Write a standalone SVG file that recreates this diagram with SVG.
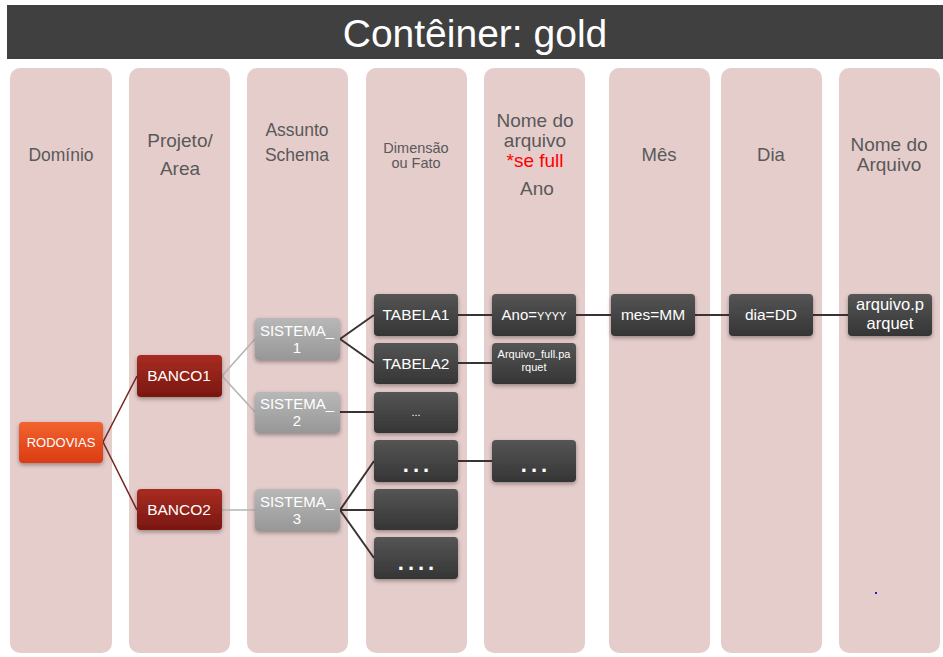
<svg xmlns="http://www.w3.org/2000/svg" width="943" height="657" viewBox="0 0 943 657">
<defs>
<linearGradient id="gDark" x1="0" y1="0" x2="0" y2="1"><stop offset="0" stop-color="#555"/><stop offset="1" stop-color="#353535"/></linearGradient>
<linearGradient id="gGray" x1="0" y1="0" x2="0" y2="1"><stop offset="0" stop-color="#b8b8b8"/><stop offset="1" stop-color="#979797"/></linearGradient>
<linearGradient id="gRed" x1="0" y1="0" x2="0" y2="1"><stop offset="0" stop-color="#a82c22"/><stop offset="1" stop-color="#7a1710"/></linearGradient>
<linearGradient id="gOrange" x1="0" y1="0" x2="0" y2="1"><stop offset="0" stop-color="#f2632f"/><stop offset="1" stop-color="#db3c12"/></linearGradient>
<filter id="sh" x="-20%" y="-20%" width="140%" height="150%"><feDropShadow dx="0" dy="2" stdDeviation="2" flood-color="#000" flood-opacity="0.35"/></filter>
</defs>
<style>
.col{fill:#e5cdcc}
.hd{font-family:"Liberation Sans",Arial,sans-serif;fill:#595959;text-anchor:middle}
.nt{font-family:"Liberation Sans",Arial,sans-serif;fill:#fff;text-anchor:middle}
.dots{font-family:"Liberation Sans",Arial,sans-serif;fill:#fff;text-anchor:middle;font-size:22px;font-weight:bold;letter-spacing:4px}
.dk{fill:url(#gDark);filter:url(#sh)}
.gr{fill:url(#gGray);filter:url(#sh)}
.rd{fill:url(#gRed);filter:url(#sh)}
.or{fill:url(#gOrange);filter:url(#sh)}
.c1{stroke:#7a2a24;stroke-width:1.6;fill:none}
.c2{stroke:#b4b4b4;stroke-width:1.6;fill:none}
.c3{stroke:#3b3333;stroke-width:2;fill:none}
</style>
<rect x="0" y="0" width="943" height="657" fill="#fff"/>
<g id="title">
<rect x="7" y="5" width="936" height="54" fill="#404040"/>
<text x="475" y="47" font-family="Liberation Sans,Arial,sans-serif" font-size="39" fill="#fff" text-anchor="middle">Contêiner: gold</text>
</g>
<g id="columns">
<rect class="col" x="10" y="68" width="102" height="585" rx="10"/>
<rect class="col" x="129" y="68" width="101" height="585" rx="10"/>
<rect class="col" x="247" y="68" width="101" height="585" rx="10"/>
<rect class="col" x="366" y="68" width="101" height="585" rx="10"/>
<rect class="col" x="484" y="68" width="101" height="585" rx="10"/>
<rect class="col" x="609" y="68" width="101" height="585" rx="10"/>
<rect class="col" x="721" y="68" width="101" height="585" rx="10"/>
<rect class="col" x="839" y="68" width="101" height="585" rx="10"/>
<text class="hd" x="61" y="161" font-size="17.5">Domínio</text>
<text class="hd" x="180" y="147" font-size="19">Projeto/</text>
<text class="hd" x="180" y="175" font-size="19">Area</text>
<text class="hd" x="297" y="136" font-size="17.5">Assunto</text>
<text class="hd" x="297" y="161" font-size="17.5">Schema</text>
<text class="hd" x="416" y="153" font-size="14.5">Dimensão</text>
<text class="hd" x="416" y="168" font-size="14.5">ou Fato</text>
<text class="hd" x="535" y="127" font-size="19">Nome do</text>
<text class="hd" x="535" y="147" font-size="19">arquivo</text>
<text class="hd" x="535" y="167" font-size="19" style="fill:#ff0000">*se full</text>
<text class="hd" x="537" y="195" font-size="19">Ano</text>
<text class="hd" x="659" y="161" font-size="18.5">Mês</text>
<text class="hd" x="771" y="161" font-size="18.5">Dia</text>
<text class="hd" x="889" y="151" font-size="19">Nome do</text>
<text class="hd" x="889" y="171" font-size="19">Arquivo</text>
<rect x="875" y="592" width="2" height="2" fill="#2020d0"/>
</g>
<g id="connectors">
<path class="c1" d="M103 442 L137 376 M103 442 L137 510"/>
<path class="c2" d="M222 376 L255 339 M222 376 L255 412 M222 510 L255 510"/>
<path class="c3" d="M340 339 L374 315 M340 339 L374 363 M340 412 L374 412 M340 510 L374 461 M340 510 L374 510 M340 510 L374 558"/>
<path class="c3" d="M458 315 L492 315 M576 315 L611 315 M694 315 L729 315 M812 315 L848 315 M458 363 L492 363 M458 461 L492 461"/>
</g>
<g id="rodovias"><rect class="or" x="19" y="422" width="84" height="41" rx="4"/><text class="nt" x="61" y="447" font-size="13">RODOVIAS</text></g>
<g id="banco1"><rect class="rd" x="137" y="355" width="85" height="42" rx="4"/><text class="nt" x="179" y="381" font-size="15.5">BANCO1</text></g>
<g id="banco2"><rect class="rd" x="137" y="489" width="85" height="41" rx="4"/><text class="nt" x="179" y="515" font-size="15.5">BANCO2</text></g>
<g id="sistema1"><rect class="gr" x="255" y="318" width="85" height="42" rx="4"/><text class="nt" x="297" y="336" font-size="15">SISTEMA_</text><text class="nt" x="297" y="353" font-size="15">1</text></g>
<g id="sistema2"><rect class="gr" x="255" y="392" width="85" height="41" rx="4"/><text class="nt" x="297" y="409" font-size="15">SISTEMA_</text><text class="nt" x="297" y="426" font-size="15">2</text></g>
<g id="sistema3"><rect class="gr" x="255" y="489" width="85" height="42" rx="4"/><text class="nt" x="297" y="507" font-size="15">SISTEMA_</text><text class="nt" x="297" y="524" font-size="15">3</text></g>
<g id="tabela1"><rect class="dk" x="374" y="294" width="84" height="42" rx="4"/><text class="nt" x="416" y="320" font-size="15.5">TABELA1</text></g>
<g id="tabela2"><rect class="dk" x="374" y="343" width="84" height="41" rx="4"/><text class="nt" x="416" y="369" font-size="15.5">TABELA2</text></g>
<g id="dim3"><rect class="dk" x="374" y="392" width="84" height="41" rx="4"/><text class="nt" x="416" y="416" font-size="11">...</text></g>
<g id="dim4"><rect class="dk" x="374" y="440" width="84" height="42" rx="4"/><text class="dots" x="418" y="472">...</text></g>
<g id="dim5"><rect class="dk" x="374" y="489" width="84" height="41" rx="4"/></g>
<g id="dim6"><rect class="dk" x="374" y="537" width="84" height="42" rx="4"/><text class="dots" x="418" y="570">....</text></g>
<g id="ano"><rect class="dk" x="492" y="294" width="84" height="42" rx="4"/><text class="nt" x="534" y="320" font-size="15">Ano=<tspan font-size="11">YYYY</tspan></text></g>
<g id="arqfull"><rect class="dk" x="492" y="343" width="84" height="41" rx="4"/><text class="nt" x="534" y="358" font-size="11">Arquivo_full.pa</text><text class="nt" x="534" y="371" font-size="11">rquet</text></g>
<g id="ano3"><rect class="dk" x="492" y="440" width="84" height="42" rx="4"/><text class="dots" x="536" y="472">...</text></g>
<g id="mes"><rect class="dk" x="611" y="294" width="84" height="42" rx="4"/><text class="nt" x="653" y="320" font-size="15.5">mes=MM</text></g>
<g id="dia"><rect class="dk" x="729" y="294" width="84" height="42" rx="4"/><text class="nt" x="771" y="320" font-size="15.5">dia=DD</text></g>
<g id="arquivo"><rect class="dk" x="848" y="294" width="84" height="42" rx="4"/><text class="nt" x="890" y="310" font-size="16.5">arquivo.p</text><text class="nt" x="890" y="329" font-size="16.5">arquet</text></g>
</svg>
